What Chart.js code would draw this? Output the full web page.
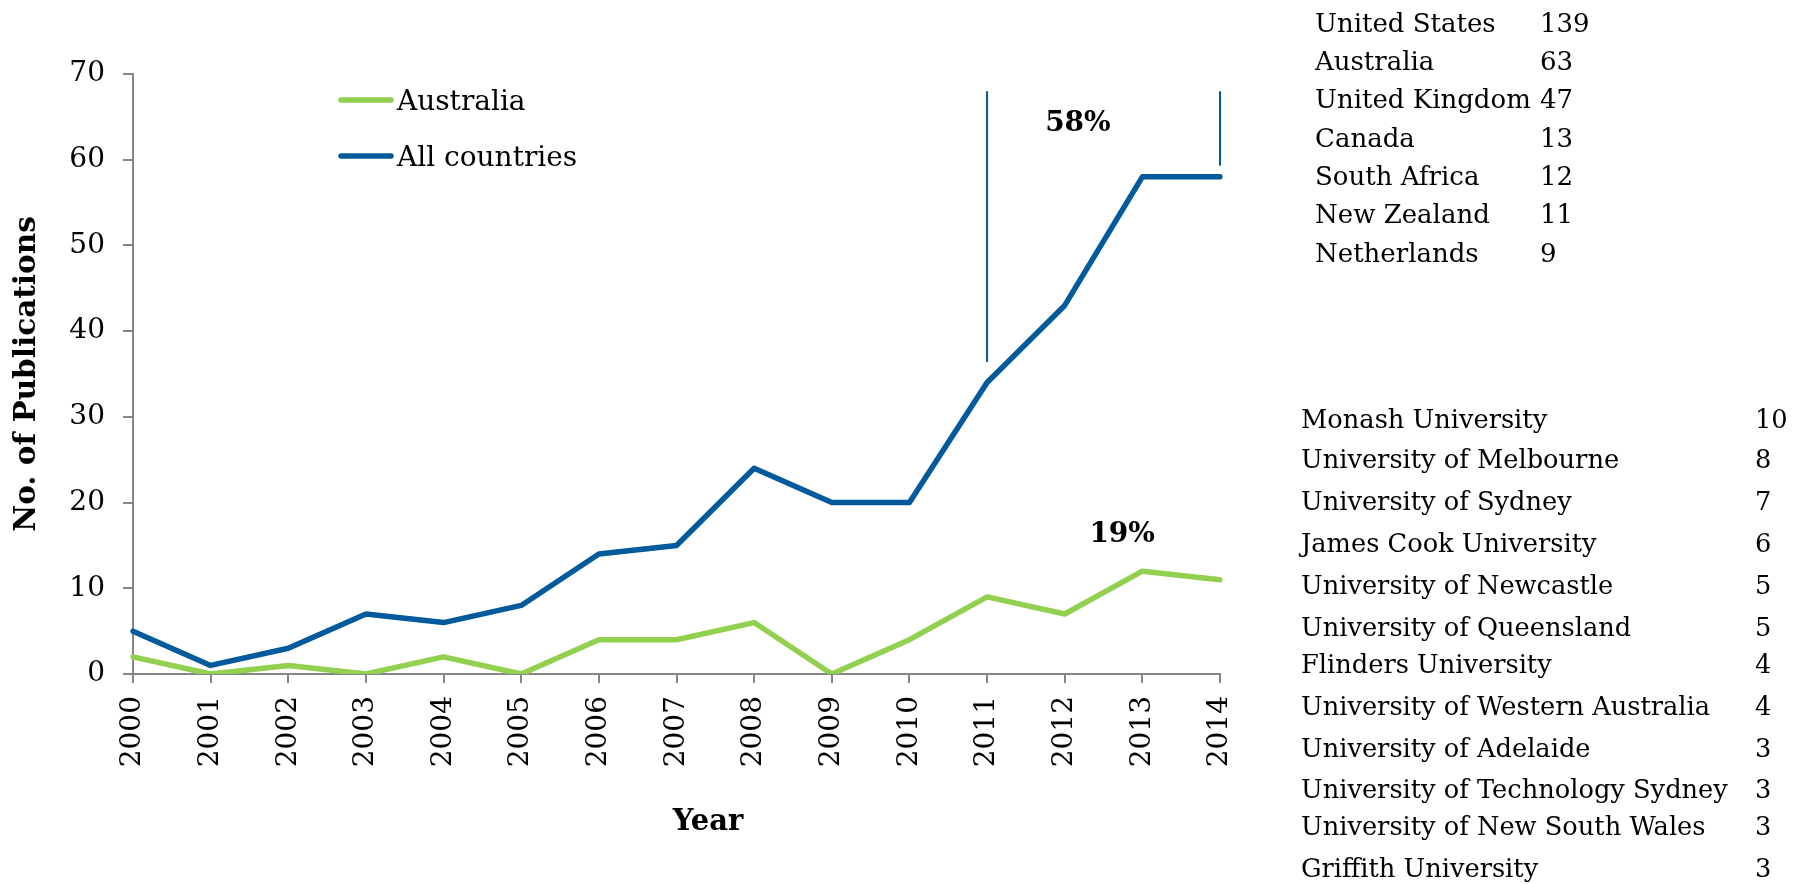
<!DOCTYPE html>
<html>
<head>
<meta charset="utf-8">
<script src="https://cdn.jsdelivr.net/npm/chart.js@4.4.1/dist/chart.umd.min.js"></script>
<style>
  html, body { margin: 0; padding: 0; background: #ffffff; }
  #wrap { position: relative; width: 1794px; height: 884px; overflow: hidden; }
  #chart { position: absolute; left: 0; top: 0; }
  .tbl { position: absolute; left: 0; top: 0; font-family: "DejaVu Serif", serif; color: #000; }
  .row { position: absolute; white-space: nowrap; }
</style>
</head>
<body>
<div id="wrap">
  <canvas id="chart" width="1794" height="884"></canvas>
  <div id="countries" class="tbl"></div>
  <div id="unis" class="tbl"></div>
</div>
<script>
// ---- data ----
const years = ['2000','2001','2002','2003','2004','2005','2006','2007','2008','2009','2010','2011','2012','2013','2014'];
const australia = [2, 0, 1, 0, 2, 0, 4, 4, 6, 0, 4, 9, 7, 12, 11];
const allCountries = [5, 1, 3, 7, 6, 8, 14, 15, 24, 20, 20, 34, 43, 58, 58];
const yTickValues = [0, 10, 20, 30, 40, 50, 60, 70];
const seriesNames = ['Australia', 'All countries'];
const shareAll = '58%';
const shareAus = '19%';
const countryNames = ['United States', 'Australia', 'United Kingdom', 'Canada', 'South Africa', 'New Zealand', 'Netherlands'];
const countryCounts = [139, 63, 47, 13, 12, 11, 9];
const uniNames = ['Monash University', 'University of Melbourne', 'University of Sydney', 'James Cook University',
  'University of Newcastle', 'University of Queensland', 'Flinders University', 'University of Western Australia',
  'University of Adelaide', 'University of Technology Sydney', 'University of New South Wales', 'Griffith University'];
const uniCounts = [10, 8, 7, 6, 5, 5, 4, 4, 3, 3, 3, 3];

// ---- layout / styles (not data) ----
const GREEN = 'rgb(146,208,80)';
const BLUE = 'rgb(0,90,156)';
const AXIS = '#868686';
const FONT = '"DejaVu Serif", serif';
const countryRowBaselines = [31.7, 70, 108.3, 146.6, 184.9, 223.2, 261.5];
const uniRowBaselines = [428, 468, 510, 552, 594, 636, 673, 715, 757, 798, 835, 877];

// ---- tables (HTML text) ----
function buildTable(el, names, counts, nameX, valueX, baselines, fontSize) {
  const lineH = 40;
  const asc = 0.928 * fontSize, desc = 0.236 * fontSize;
  const baseOff = (lineH - asc - desc) / 2 + asc;
  el.style.fontSize = fontSize + 'px';
  names.forEach((n, i) => {
    const top = baselines[i] - baseOff;
    const a = document.createElement('div');
    a.className = 'row';
    a.style.left = nameX + 'px';
    a.style.top = top + 'px';
    a.style.lineHeight = lineH + 'px';
    a.textContent = n;
    const b = document.createElement('div');
    b.className = 'row';
    b.style.left = valueX + 'px';
    b.style.top = top + 'px';
    b.style.lineHeight = lineH + 'px';
    b.textContent = String(counts[i]);
    el.appendChild(a); el.appendChild(b);
  });
}
buildTable(document.getElementById('countries'), countryNames, countryCounts, 1315, 1540, countryRowBaselines, 26);
buildTable(document.getElementById('unis'), uniNames, uniCounts, 1301, 1755, uniRowBaselines, 25.7);

// ---- overlay plugin: legend, bracket annotation, x title ----
const overlay = {
  id: 'overlay',
  afterDraw(chart) {
    const { ctx } = chart;
    const x = chart.scales.x, y = chart.scales.y;
    ctx.save();
    // legend
    chart.data.datasets.forEach((d, i) => {
      const base = 110 + i * 56;
      ctx.strokeStyle = d.borderColor;
      ctx.lineWidth = 5.5;
      ctx.lineCap = 'round';
      ctx.beginPath();
      ctx.moveTo(341, base - 10);
      ctx.lineTo(391, base - 10);
      ctx.stroke();
      ctx.fillStyle = '#000';
      ctx.font = '28px ' + FONT;
      ctx.textAlign = 'left';
      ctx.textBaseline = 'alphabetic';
      ctx.fillText(d.label, 397, base);
    });
    // bracket lines
    ctx.strokeStyle = BLUE;
    ctx.lineWidth = 2;
    ctx.lineCap = 'butt';
    const topY = y.getPixelForValue(68);
    const xl = x.getPixelForValue(11), xr = x.getPixelForValue(14);
    ctx.beginPath();
    ctx.moveTo(xl, topY); ctx.lineTo(xl, y.getPixelForValue(36.4));
    ctx.moveTo(xr, topY); ctx.lineTo(xr, y.getPixelForValue(59.3));
    ctx.stroke();
    // percentages
    ctx.fillStyle = '#000';
    ctx.font = 'bold 28px ' + FONT;
    ctx.textAlign = 'center';
    ctx.textBaseline = 'middle';
    ctx.fillText(shareAll, x.getPixelForValue(12.17), y.getPixelForValue(64.2));
    ctx.fillText(shareAus, x.getPixelForValue(12.74), y.getPixelForValue(16.2));
    // x axis title
    ctx.font = 'bold 29px ' + FONT;
    ctx.fillText('Year', 708, 822);
    ctx.restore();
  }
};

new Chart(document.getElementById('chart'), {
  type: 'line',
  data: {
    labels: years,
    datasets: [
      { label: seriesNames[0], data: australia, borderColor: GREEN, backgroundColor: GREEN },
      { label: seriesNames[1], data: allCountries, borderColor: BLUE, backgroundColor: BLUE }
    ]
  },
  options: {
    responsive: false,
    devicePixelRatio: 1,
    animation: false,
    layout: { padding: { left: 0, right: 574, top: 74, bottom: 0 } },
    elements: {
      line: { borderWidth: 5.5, tension: 0, borderJoinStyle: 'round', borderCapStyle: 'round', fill: false },
      point: { radius: 0, hoverRadius: 0 }
    },
    plugins: { legend: { display: false }, tooltip: { enabled: false }, title: { display: false } },
    scales: {
      x: {
        type: 'category',
        offset: false,
        grid: { display: true, drawOnChartArea: false, drawTicks: true, tickLength: 9, color: AXIS, lineWidth: 2 },
        border: { display: true, color: AXIS, width: 2 },
        ticks: { color: '#000', font: { family: FONT, size: 28 }, minRotation: 90, maxRotation: 90, autoSkip: false, padding: 13 },
        title: { display: false },
        afterFit(s) { s.height = 210; }
      },
      y: {
        min: 0, max: 70,
        grid: { display: true, drawOnChartArea: false, drawTicks: true, tickLength: 10, color: AXIS, lineWidth: 2 },
        border: { display: true, color: AXIS, width: 2 },
        ticks: { color: '#000', font: { family: FONT, size: 28 }, padding: 18, stepSize: 10 },
        afterBuildTicks(s) { s.ticks = yTickValues.map(v => ({ value: v })); },
        title: { display: true, text: 'No. of Publications', color: '#000', font: { family: FONT, size: 29.5, weight: 'bold' }, padding: { top: 10, bottom: 0 } },
        afterFit(s) { s.width = 133; }
      }
    }
  },
  plugins: [overlay]
});
</script>
</body>
</html>
